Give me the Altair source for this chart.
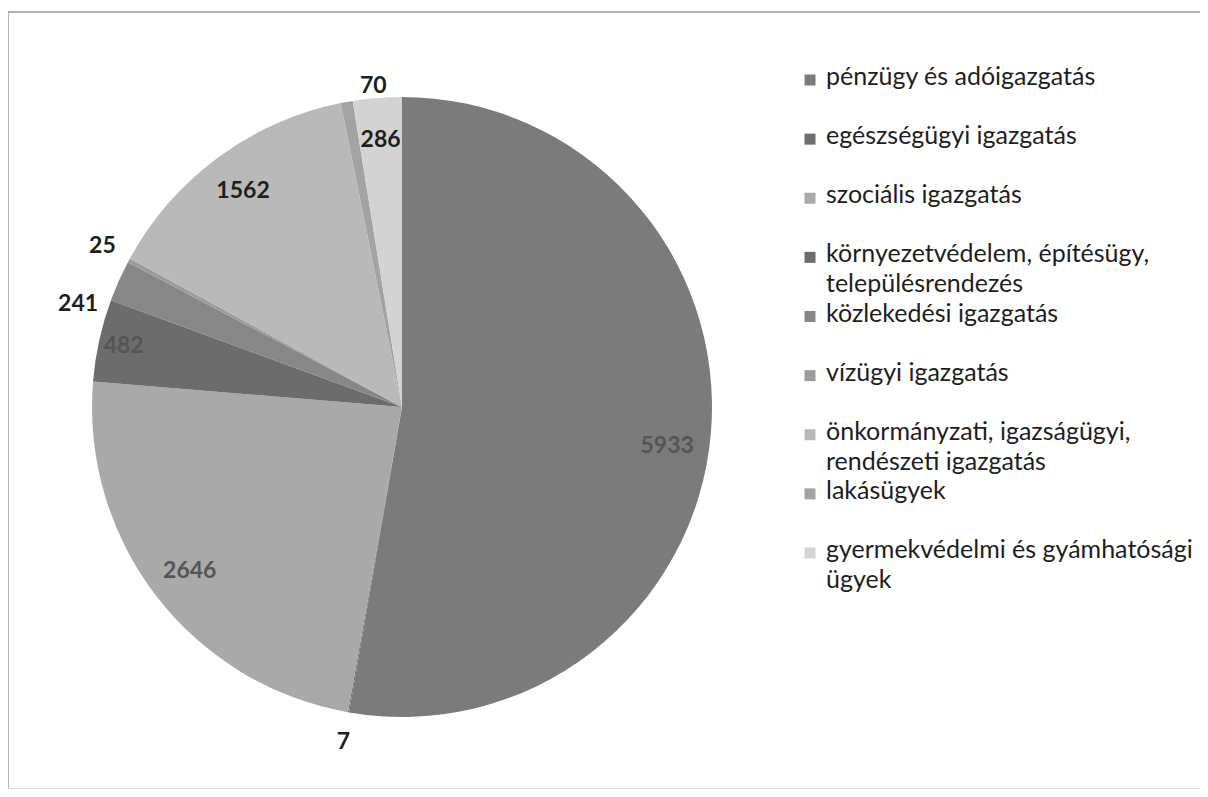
import altair as alt
import pandas as pd

categories = [
    "pénzügy és adóigazgatás",
    "egészségügyi igazgatás",
    "szociális igazgatás",
    "környezetvédelem, építésügy, településrendezés",
    "közlekedési igazgatás",
    "vízügyi igazgatás",
    "önkormányzati, igazságügyi, rendészeti igazgatás",
    "lakásügyek",
    "gyermekvédelmi és gyámhatósági ügyek",
]
legend_labels = [
    "pénzügy és adóigazgatás",
    "egészségügyi igazgatás",
    "szociális igazgatás",
    "környezetvédelem, építésügy,|településrendezés",
    "közlekedési igazgatás",
    "vízügyi igazgatás",
    "önkormányzati, igazságügyi,|rendészeti igazgatás",
    "lakásügyek",
    "gyermekvédelmi és gyámhatósági|ügyek",
]
values = [5933, 7, 2646, 482, 241, 25, 1562, 70, 286]
colors = ["#7b7b7b", "#6f6f6f", "#a9a9a9", "#6c6c6c", "#878787",
          "#9b9b9b", "#b9b9b9", "#a3a3a3", "#d3d3d3"]

df = pd.DataFrame({
    "idx": list(range(len(categories))),
    "cat": categories,
    "leg": legend_labels,
    "value": values,
})

W, H = 1192, 777
CX, CY, R = 394, 395, 310
FONT = "Lato"

color_scale = alt.Scale(domain=categories, range=colors)
base = alt.Chart(df)

pie = base.mark_arc(outerRadius=R).encode(
    theta=alt.Theta("value:Q", stack=True),
    order=alt.Order("idx:Q"),
    color=alt.Color("cat:N", scale=color_scale, legend=None),
    x=alt.value(CX),
    y=alt.value(CY),
)

gray_label = "indexof(['pénzügy és adóigazgatás','szociális igazgatás','környezetvédelem, építésügy, településrendezés'], datum.cat) >= 0"

# label angle = middle of slice, from cumulative sums; radius inside / outside
labels = base.transform_window(
    cum="sum(value)", sort=[alt.SortField("idx")], frame=[None, 0]
).transform_joinaggregate(
    total="sum(value)"
).transform_calculate(
    mid="(datum.cum - datum.value / 2) / datum.total * 2 * PI",
    lr="datum.value > 250 ? (datum.value == 482 ? 285 : 268) : 340",
).transform_calculate(
    # Excel moved a few labels a little
    la="datum.cat === 'közlekedési igazgatás' ? datum.mid - 0.11 : (datum.cat === 'lakásügyek' ? datum.mid + 0.09 : (datum.cat === 'pénzügy és adóigazgatás' ? datum.mid + 0.06 : datum.mid))",
    lr2="datum.cat === 'lakásügyek' ? 322 : datum.lr",
).mark_text(font=FONT, fontSize=23, fontWeight="bold").encode(
    theta=alt.Theta("la:Q", scale=None, stack=None),
    radius=alt.Radius("lr2:Q", scale=None),
    text=alt.Text("value:Q"),
    x=alt.value(CX),
    y=alt.value(CY),
    color=alt.condition(gray_label, alt.value("#555555"), alt.value("#1e1e1e")),
)

ly = alt.Y("idx:Q", scale=alt.Scale(domain=[0, 8], range=[68, 541], nice=False, zero=False), axis=None)

leg_sq = base.mark_square(size=121, opacity=1).encode(
    x=alt.value(802),
    y=ly,
    color=alt.Color("cat:N", scale=color_scale, legend=None),
)

leg_tx = base.mark_text(
    align="left", baseline="top", lineBreak="|", dy=-15, lineHeight=30,
    font=FONT, fontSize=25, color="#1e1e1e",
).encode(
    x=alt.value(818),
    y=ly,
    text="leg:N",
)

# frame: top, left and bottom edges (right edge is cut off in the original)
frame_df = pd.DataFrame({"edge": ["top", "left", "bottom"]})
fbase = alt.Chart(frame_df)
frame_top = fbase.transform_filter("datum.edge == 'top'").mark_rule(color="#9a9a9a", strokeWidth=1.5).encode(
    x=alt.value(0), x2=alt.value(W), y=alt.value(0))
frame_left = fbase.transform_filter("datum.edge == 'left'").mark_rule(color="#9a9a9a", strokeWidth=1.5).encode(
    x=alt.value(0), y=alt.value(0), y2=alt.value(H))
frame_bottom = fbase.transform_filter("datum.edge == 'bottom'").mark_rule(color="#d0d0d0", strokeWidth=1.5).encode(
    x=alt.value(0), x2=alt.value(W), y=alt.value(H))

chart = alt.layer(frame_top, frame_left, frame_bottom, pie, labels, leg_sq, leg_tx).properties(
    width=W, height=H,
    autosize=alt.AutoSizeParams(type="none"),
    padding={"top": 4, "left": 0, "right": 0, "bottom": 0},
).configure_view(stroke=None)

chart.save("out.html", embed_options={"renderer": "svg", "actions": False})
